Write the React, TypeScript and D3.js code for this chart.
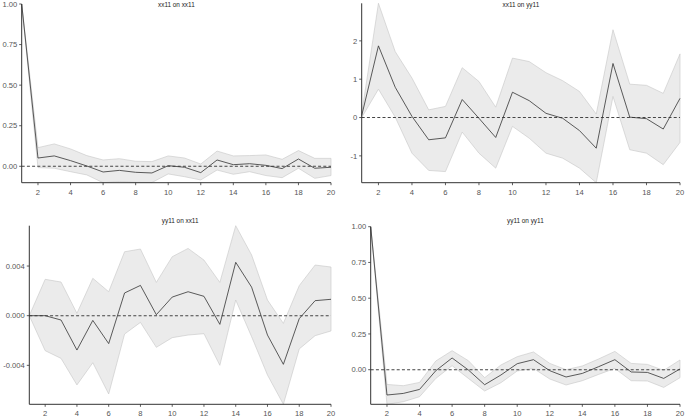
import React from "react";
import * as d3 from "d3";

const horizons = d3.range(1, 21);
const xTicks = [2, 4, 6, 8, 10, 12, 14, 16, 18, 20];

// xx11 on xx11
const p1Irf = [1.0, 0.051, 0.064, 0.035, 0.002, -0.035, -0.025, -0.037, -0.041, 0.004, -0.006, -0.039, 0.039, 0.01, 0.016, 0.006, -0.014, 0.045, -0.012, -0.006];
const p1Upper = [1.0, 0.115, 0.138, 0.107, 0.066, 0.039, 0.047, 0.031, 0.029, 0.064, 0.051, 0.014, 0.094, 0.064, 0.066, 0.07, 0.043, 0.097, 0.049, 0.049];
const p1Lower = [1.0, -0.008, -0.012, -0.033, -0.053, -0.101, -0.094, -0.099, -0.1, -0.047, -0.064, -0.084, -0.023, -0.049, -0.033, -0.057, -0.07, -0.012, -0.074, -0.057];
const p1Ticks = [0, 0.25, 0.5, 0.75, 1.0];

// xx11 on yy11
const p2Irf = [0.05, 1.87, 0.79, 0.03, -0.58, -0.53, 0.47, -0.02, -0.52, 0.66, 0.44, 0.11, -0.02, -0.34, -0.8, 1.41, 0.01, -0.03, -0.3, 0.5];
const p2Upper = [0.1, 2.98, 1.72, 1.03, 0.2, 0.29, 1.3, 0.94, 0.27, 1.55, 1.46, 1.17, 0.96, 0.68, 0.09, 2.29, 0.87, 0.84, 0.63, 1.66];
const p2Lower = [0.0, 0.74, 0.01, -0.93, -1.38, -1.41, -0.38, -0.93, -1.32, -0.23, -0.54, -0.93, -1.06, -1.32, -1.7, 0.55, -0.84, -0.93, -1.23, -0.65];
const p2Ticks = [-1, 0, 1, 2];

// yy11 on xx11
const p3Irf = [0, 0, -0.00035, -0.00277, -0.00038, -0.00225, 0.00183, 0.00244, 0.00008, 0.0015, 0.00193, 0.00156, -0.0007, 0.0043, 0.0023, -0.00156, -0.00392, -0.00024, 0.00121, 0.00132];
const p3Upper = [0, 0.00293, 0.00271, 0.00019, 0.00301, 0.00193, 0.00515, 0.00537, 0.00268, 0.00475, 0.00542, 0.00448, 0.00268, 0.00725, 0.00489, 0.00126, -0.00062, 0.00242, 0.00408, 0.00392];
const p3Lower = [0, -0.00282, -0.00344, -0.00558, -0.00379, -0.00631, -0.00148, -0.00054, -0.00255, -0.00177, -0.00156, -0.00145, -0.004, 0.00126, -0.00169, -0.00478, -0.00714, -0.00268, -0.00161, -0.00123];
const p3Ticks = [-0.004, 0, 0.004];

// yy11 on yy11
const p4Irf = [1.0, -0.177, -0.166, -0.138, -0.007, 0.082, -0.002, -0.105, -0.037, 0.042, 0.07, -0.007, -0.051, -0.026, 0.021, 0.07, -0.016, -0.019, -0.061, 0.005];
const p4Upper = [1.0, -0.103, -0.112, -0.089, 0.061, 0.133, 0.063, -0.056, 0.033, 0.091, 0.124, 0.044, 0.0, 0.026, 0.075, 0.128, 0.044, 0.037, -0.005, 0.068];
const p4Lower = [1.0, -0.242, -0.224, -0.189, -0.061, 0.028, -0.061, -0.149, -0.091, -0.009, 0.009, -0.065, -0.107, -0.077, -0.033, 0.009, -0.077, -0.079, -0.124, -0.056];
const p4Ticks = [0, 0.25, 0.5, 0.75, 1.0];

const titles = ["xx11 on xx11", "xx11 on yy11", "yy11 on xx11", "yy11 on yy11"];

type PanelSpec = {
  title: string;
  irf: number[];
  upper: number[];
  lower: number[];
  ticks: number[];
  fmt: string;
  left: number;
  right: number;
  top: number;
  bottom: number;
  titleY: number;
};

const panels: PanelSpec[] = [
  { title: titles[0], irf: p1Irf, upper: p1Upper, lower: p1Lower, ticks: p1Ticks, fmt: ".2f", left: 21.7, right: 331, top: 4, bottom: 182.7, titleY: 6.5 },
  { title: titles[1], irf: p2Irf, upper: p2Upper, lower: p2Lower, ticks: p2Ticks, fmt: "d", left: 361.7, right: 680, top: 3.3, bottom: 182.7, titleY: 6.5 },
  { title: titles[2], irf: p3Irf, upper: p3Upper, lower: p3Lower, ticks: p3Ticks, fmt: ".3f", left: 29.3, right: 331, top: 225.7, bottom: 404.3, titleY: 222.5 },
  { title: titles[3], irf: p4Irf, upper: p4Upper, lower: p4Lower, ticks: p4Ticks, fmt: ".2f", left: 370.7, right: 680, top: 226.7, bottom: 404.3, titleY: 222.5 },
];

const FONT = "'Liberation Sans', Arial, sans-serif";

function Panel({ p }: { p: PanelSpec }) {
  const x = d3.scaleLinear().domain([1, 20]).range([p.left, p.right]);
  const ymin = d3.min(p.lower) as number;
  const ymax = d3.max(p.upper) as number;
  const y = d3.scaleLinear().domain([ymin, ymax]).range([p.bottom, p.top]);
  const area = d3
    .area<number>()
    .x((_, i) => x(horizons[i]))
    .y0((_, i) => y(p.lower[i]))
    .y1((_, i) => y(p.upper[i]));
  const line = d3
    .line<number>()
    .x((_, i) => x(horizons[i]))
    .y((d) => y(d));
  const fmt = d3.format(p.fmt);
  const fmtTick = (v: number) => fmt(v).replace("−", "-");
  return (
    <g>
      <path d={area(p.irf) || ""} fill="#ebebeb" stroke="#c6c6c6" strokeWidth={0.6} />
      <line x1={p.left} x2={p.right} y1={y(0)} y2={y(0)} stroke="#444" strokeWidth={1.1} strokeDasharray="3,2.2" />
      <path d={line(p.irf) || ""} fill="none" stroke="#333" strokeWidth={0.8} />
      <line x1={p.left} x2={p.left} y1={p.top} y2={p.bottom} stroke="#333" strokeWidth={1} />
      <line x1={p.left} x2={p.right} y1={p.bottom} y2={p.bottom} stroke="#333" strokeWidth={1} />
      {p.ticks.map((t) => (
        <g key={"y" + t}>
          <line x1={p.left - 2.5} x2={p.left} y1={y(t)} y2={y(t)} stroke="#333" strokeWidth={0.8} />
          <text x={p.left - 4.5} y={y(t)} dy="0.35em" textAnchor="end" fontSize={7.6} fill="#555" fontFamily={FONT}>
            {fmtTick(t)}
          </text>
        </g>
      ))}
      {xTicks.map((t) => (
        <g key={"x" + t}>
          <line x1={x(t)} x2={x(t)} y1={p.bottom} y2={p.bottom + 2.5} stroke="#333" strokeWidth={0.8} />
          <text x={x(t)} y={p.bottom + 9.4} dy="0.35em" textAnchor="middle" fontSize={7.6} fill="#555" fontFamily={FONT}>
            {t}
          </text>
        </g>
      ))}
      <text x={(p.left + p.right) / 2} y={p.titleY} textAnchor="middle" fontSize={6.4} fill="#222" fontFamily={FONT}>
        {p.title}
      </text>
    </g>
  );
}

export default function App() {
  return (
    <svg
      width={685}
      height={417}
      style={{ position: "absolute", left: 0, top: 0, background: "#fff", display: "block" }}
    >
      <rect width={685} height={417} fill="#fff" />
      {panels.map((p) => (
        <Panel key={p.title} p={p} />
      ))}
    </svg>
  );
}
